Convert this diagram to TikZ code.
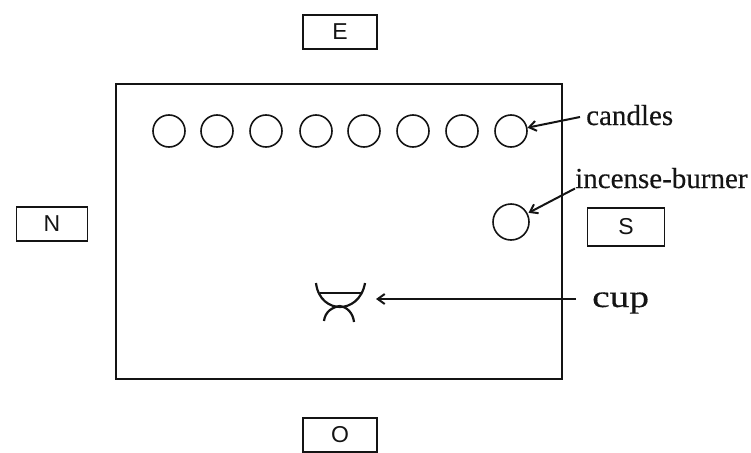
\documentclass[tikz,border=0pt]{standalone}
\usepackage{fontspec}
\setmainfont{Liberation Serif}
\newfontfamily\boxfont{Liberation Sans}
\newfontfamily\labelfont[FakeBold=0.35]{Liberation Serif}
\newfontfamily\cupfont[FakeBold=0.35,FakeStretch=1.27]{Liberation Serif}
\usetikzlibrary{arrows.meta}
\definecolor{inkblack}{RGB}{20,20,20}

\begin{document}
\begin{tikzpicture}[
    x=1pt,
    y=-1pt,
    >={Straight Barb[length=7pt,width=10pt]},
    quarter/.style={draw=inkblack,line width=1.7pt,inner sep=0pt,text=inkblack,
      font=\boxfont\fontsize{23}{23}\selectfont},
    candle/.style={circle,draw=inkblack,line width=1.6pt,inner sep=0pt,minimum size=32pt},
    burner/.style={circle,draw=inkblack,line width=1.6pt,inner sep=0pt,minimum size=36pt},
    label/.style={inner sep=0pt,text=inkblack,anchor=base west,
      font=\labelfont\fontsize{29}{29}\selectfont},
    pointer/.style={->,draw=inkblack,line width=2pt}
]
  \useasboundingbox (0,0) rectangle (751,452);

  \draw[inkblack,line width=1.9pt] (116,84) rectangle (562,379);

  % quarters
  \node[quarter,minimum width=74pt,minimum height=34pt] (east) at (340,32) {E};
  \node[quarter,minimum width=71pt,minimum height=34pt] (north) at (52,224) {N};
  \node[quarter,minimum width=77pt,minimum height=38pt] (south) at (626,227) {S};
  \node[quarter,minimum width=74pt,minimum height=34pt] (west) at (340,435) {O};

  % candles
  \foreach \n/\px in {1/169,2/217,3/266,4/316,5/364,6/413,7/462,8/511}
    \node[candle] (candle\n) at (\px,131) {};
  \node[burner] (censer) at (511,222) {};

  % cup
  \draw[inkblack,line width=2.2pt] (316,283) .. controls (318,300) and (330,307) .. (340,307)
    .. controls (350,307) and (362,300) .. (365,283);
  \draw[inkblack,line width=1.2pt] (320,293) -- (361,293);
  \draw[inkblack,line width=2.2pt] (324,321) .. controls (325,312) and (332,307) .. (340,306)
    .. controls (347,307) and (353,313) .. (354,322);
  \coordinate (cupmark) at (376,299);
  \coordinate (cuptail) at (576,299);
  \coordinate (candlestail) at (580,117);

  \node[label] (candlestext) at (586,125) {candles};
  \node[label] (burnertext) at (575,188) {incense-burner};
  \node[label,font=\cupfont\fontsize{31}{31}\selectfont] (cuptext) at (592,307) {cup};

  \draw[pointer] (candlestail) -- (candle8);
  \draw[pointer,shorten >=1pt] (burnertext.south west) -- (censer);
  \draw[pointer] (cuptail) -- (cupmark);
\end{tikzpicture}
\end{document}
